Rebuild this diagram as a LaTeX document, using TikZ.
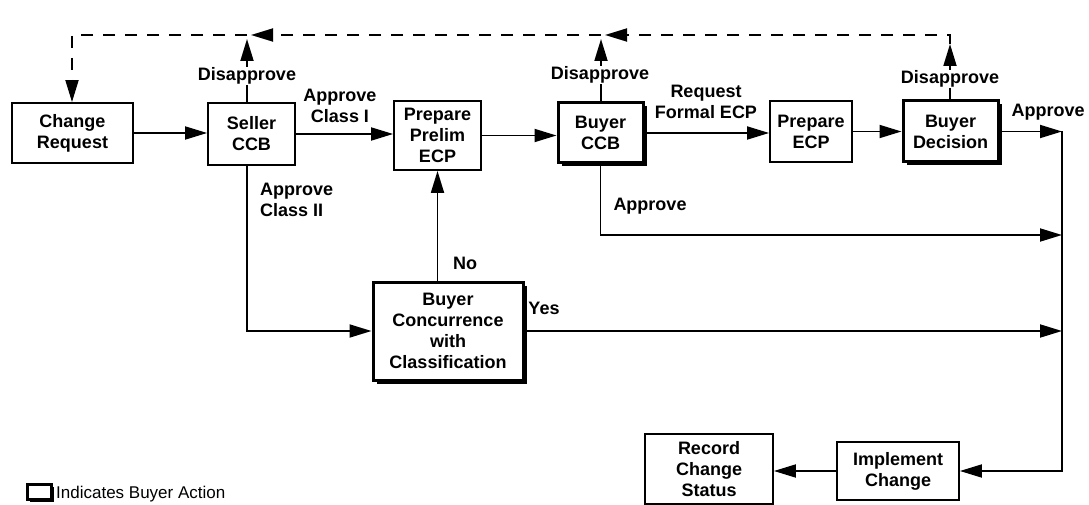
\documentclass[tikz,border=0pt]{standalone}
\usepackage{fontspec}
\setmainfont{Liberation Sans}
\usetikzlibrary{arrows.meta,shadows}
\begin{document}
\begin{tikzpicture}[x=1pt,y=-1pt,
  font=\fontsize{18}{21}\selectfont\bfseries,
  box/.style={draw, line width=1.8pt, fill=white, align=center, inner sep=0pt},
  buyerbox/.style={draw, line width=3pt, fill=white, align=center, inner sep=0pt,
    drop shadow={shadow xshift=3.5pt, shadow yshift=-3.5pt, fill=black, opacity=1}},
  tip/.style={-{Triangle[length=22pt,width=13pt]}},
  flow/.style={line width=1.8pt, tip},
  back/.style={line width=1.8pt, dash pattern=on 12pt off 10pt, tip},
  lbl/.style={inner sep=1pt, align=center}]
\useasboundingbox (0,0) rectangle (1089,505);

% process boxes
\node[box, minimum width=121pt, minimum height=60pt] (cr) at (72.5,133) {Change\\Request};
\node[box, minimum width=87pt, minimum height=62pt] (seller) at (251.5,134) {Seller\\CCB};
\node[box, minimum width=87pt, minimum height=69pt] (prelim) at (437.5,135.5) {Prepare\\Prelim\\ECP};
\node[buyerbox, minimum width=85pt, minimum height=60pt] (bccb) at (600.5,133) {Buyer\\CCB};
\node[box, minimum width=82pt, minimum height=61pt] (pecp) at (811,131.5) {Prepare\\ECP};
\node[buyerbox, minimum width=95pt, minimum height=61pt] (bdec) at (950.5,131.5) {Buyer\\Decision};
\node[buyerbox, minimum width=150pt, minimum height=98pt] (conc) at (448,331) {Buyer\\Concurrence\\with\\Classification};
\node[box, minimum width=128pt, minimum height=70pt] (rec) at (709,469) {Record\\Change\\Status};
\node[box, minimum width=122pt, minimum height=58pt] (impl) at (898,471) {Implement\\Change};

% return path coordinates
\coordinate (dC) at (72,35);
\coordinate (dS) at (247,35);
\coordinate (dB) at (601,35);
\coordinate (dD) at (950,35);
\coordinate (uS) at (247,39);
\coordinate (uB) at (601,39);
\coordinate (uD) at (950,44);
\coordinate (hS) at (251,35);
\coordinate (hB) at (605,35);

% disapproval arrows
\draw[flow] (seller.north -| dS) -- (uS);
\draw[flow] (bccb.north -| dB) -- (uB);
\draw[flow] (bdec.north -| dD) -- (uD);
\node[lbl, fill=white] at (247,76) {Disapprove};
\node[lbl, fill=white] at (600,75) {Disapprove};
\node[lbl, fill=white] at (950,79) {Disapprove};

% dashed return line
\draw[back] (uD) -- (dD) -- (hB);
\draw[back] (dB) -- (hS);
\draw[back] (dS) -- (dC) -- (cr.north -| dC);

% main flow
\draw[flow] (cr.east) -- (cr.east -| seller.west);
\draw[flow] (seller.east) -- (seller.east -| prelim.west);
\draw[flow] (prelim.east) -- (prelim.east -| bccb.west);
\draw[flow] (bccb.east) -- (bccb.east -| pecp.west);
\draw[flow] (pecp.east) -- (pecp.east -| bdec.west);

% approval rail on the right
\coordinate (railtop) at (1062,131.5);
\coordinate (railbot) at (1062,471);
\coordinate (j1) at (1062,235);
\coordinate (j2) at (1062,330);
\draw[flow] (bdec.east) -- (railtop);
\draw[flow] (railtop) -- (railbot) -- (impl.east);
\draw[flow] (bccb.south) |- (j1);
\draw[flow] (seller.south -| dS) |- (conc.west);
\draw[flow] (conc.east) -- (conc.east -| j2);
\draw[flow] (conc.north -| prelim.south) -- (prelim.south);
\draw[flow] (impl.west) -- (impl.west -| rec.east);

% connector labels
\node[lbl] at (340,106) {Approve\\Class I};
\node[lbl] at (706,102) {Request\\Formal ECP};
\node[lbl] at (1048,112) {Approve};
\node[lbl] at (650,206) {Approve};
\node[lbl, anchor=west, align=left] at (259,200) {Approve\\Class II};
\node[lbl] at (465,263) {No};
\node[lbl] at (544,308) {Yes};

% legend
\node[draw, line width=2.4pt, fill=white, inner sep=0pt, minimum width=24pt, minimum height=15pt,
  drop shadow={shadow xshift=2.5pt, shadow yshift=-2.5pt, fill=black, opacity=1}] (key) at (39.5,492) {};
\node[anchor=west, font=\fontsize{17}{20}\selectfont, inner sep=0pt] (keytext) at (56,494) {Indicates Buyer Action};
\end{tikzpicture}
\end{document}
